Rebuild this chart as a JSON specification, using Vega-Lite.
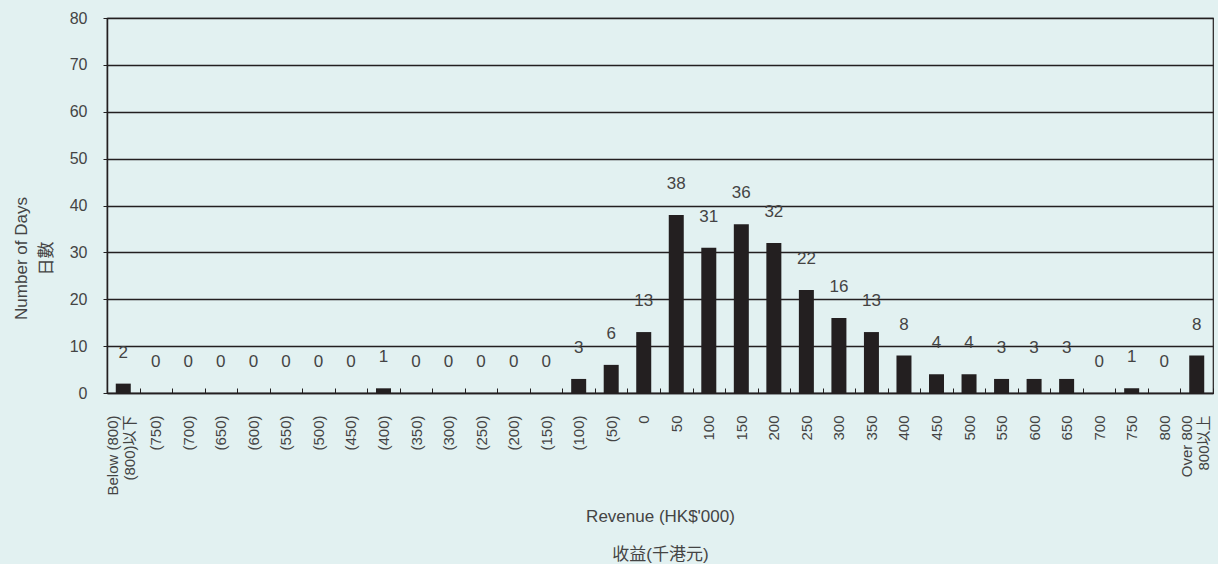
{
  "$schema": "https://vega.github.io/schema/vega-lite/v6.json",
  "width": 1106,
  "height": 375,
  "autosize": "none",
  "padding": {"left": 107, "top": 18, "right": 5, "bottom": 171},
  "background": "#e2f1f1",
  "config": {
    "view": {"stroke": "#231f20", "strokeWidth": 1.2},
    "font": "Liberation Sans, Noto Sans CJK TC, sans-serif"
  },
  "data": {
    "values": [
      {"cat": "Below (800)|(800)以下", "days": 2},
      {"cat": "(750)", "days": 0},
      {"cat": "(700)", "days": 0},
      {"cat": "(650)", "days": 0},
      {"cat": "(600)", "days": 0},
      {"cat": "(550)", "days": 0},
      {"cat": "(500)", "days": 0},
      {"cat": "(450)", "days": 0},
      {"cat": "(400)", "days": 1},
      {"cat": "(350)", "days": 0},
      {"cat": "(300)", "days": 0},
      {"cat": "(250)", "days": 0},
      {"cat": "(200)", "days": 0},
      {"cat": "(150)", "days": 0},
      {"cat": "(100)", "days": 3},
      {"cat": "(50)", "days": 6},
      {"cat": "0", "days": 13},
      {"cat": "50", "days": 38},
      {"cat": "100", "days": 31},
      {"cat": "150", "days": 36},
      {"cat": "200", "days": 32},
      {"cat": "250", "days": 22},
      {"cat": "300", "days": 16},
      {"cat": "350", "days": 13},
      {"cat": "400", "days": 8},
      {"cat": "450", "days": 4},
      {"cat": "500", "days": 4},
      {"cat": "550", "days": 3},
      {"cat": "600", "days": 3},
      {"cat": "650", "days": 3},
      {"cat": "700", "days": 0},
      {"cat": "750", "days": 1},
      {"cat": "800", "days": 0},
      {"cat": "Over 800|800以上", "days": 8}
    ]
  },
  "resolve": {"axis": {"x": "independent"}},
  "layer": [
    {
      "mark": {"type": "bar", "size": 15, "color": "#231f20"},
      "encoding": {
        "x": {
          "field": "cat",
          "type": "nominal",
          "sort": null,
          "scale": {"paddingInner": 0, "paddingOuter": 0},
          "axis": {
            "orient": "bottom",
            "title": ["Revenue  (HK$'000)", "收益(千港元)"],
            "titleFontSize": 17,
            "titleFontWeight": "normal",
            "titleColor": "#444444",
            "titleLineHeight": 38,
            "titleY": 115,
            "titleBaseline": "top",
            "labelExpr": "indexof(datum.label, '|') >= 0 ? '' : datum.label",
            "labelAngle": -90,
            "labelFontSize": 15,
            "labelColor": "#444444",
            "labelPadding": 27,
            "tickBand": "extent",
            "tickSize": -5,
            "tickColor": "#231f20",
            "domainColor": "#231f20",
            "domainWidth": 1.5,
            "grid": false
          }
        },
        "y": {
          "field": "days",
          "type": "quantitative",
          "scale": {"domain": [0, 80]},
          "axis": {
            "values": [0, 10, 20, 30, 40, 50, 60, 70, 80],
            "title": ["Number of Days", "日數"],
            "titleFontSize": 17,
            "titleFontWeight": "normal",
            "titleColor": "#444444",
            "titleLineHeight": 25,
            "titleX": -86,
            "titleY": 240,
            "titleBaseline": "middle",
            "titleAngle": -90,
            "labelFontSize": 16,
            "labelColor": "#444444",
            "labelPadding": 16,
            "tickSize": 4,
            "tickColor": "#231f20",
            "domainColor": "#231f20",
            "domainWidth": 1.5,
            "gridColor": "#231f20",
            "gridWidth": 1.3,
            "gridOpacity": 1
          }
        }
      }
    },
    {
      "mark": {"type": "text", "dy": -31, "baseline": "middle", "fontSize": 17, "color": "#444444"},
      "encoding": {
        "x": {
          "field": "cat",
          "type": "nominal",
          "sort": null,
          "axis": {
            "orient": "bottom",
            "title": null,
            "labelExpr": "indexof(datum.label, '|') >= 0 ? split(datum.label, '|') : ''",
            "labelAngle": -90,
            "labelFontSize": 15,
            "labelLineHeight": 17,
            "labelColor": "#444444",
            "labelPadding": 22,
            "labelOffset": -10,
            "ticks": false,
            "domain": false,
            "grid": false
          }
        },
        "y": {"field": "days", "type": "quantitative"},
        "text": {"field": "days", "type": "quantitative"}
      }
    }
  ]
}
